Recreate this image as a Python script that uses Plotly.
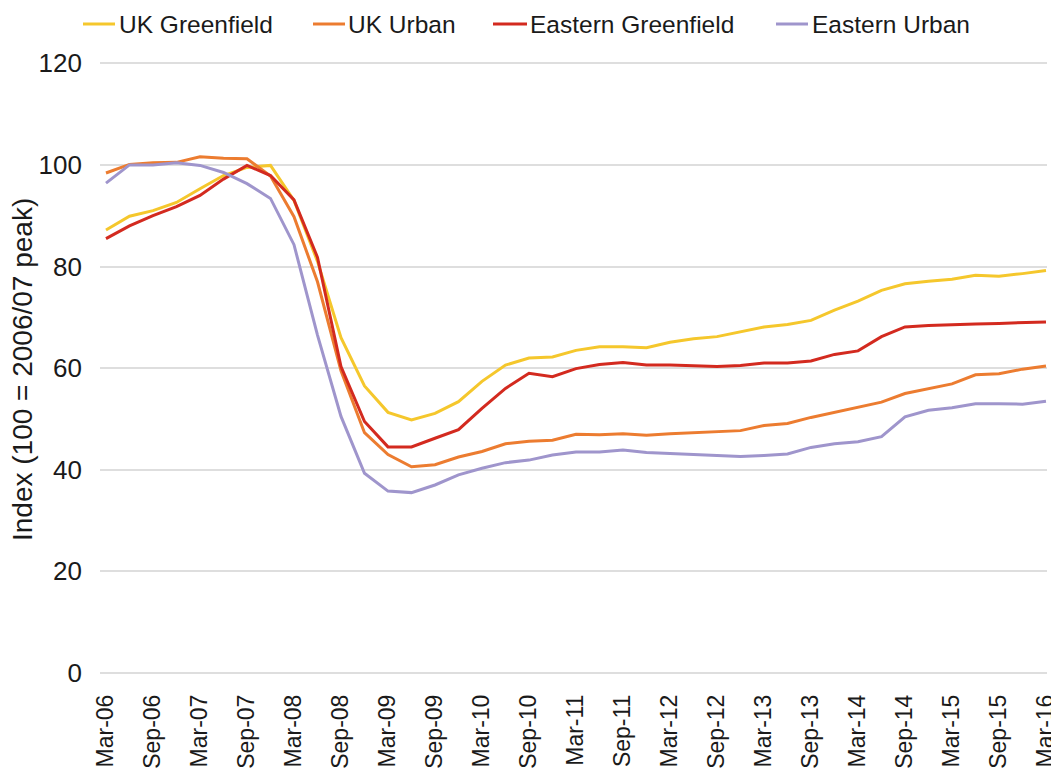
import plotly.graph_objects as go

quarters = [f"{m}-{y:02d}" for y in range(6, 17) for m in ("Mar", "Jun", "Sep", "Dec")][:41]

uk_greenfield = [87.2, 89.9, 91.0, 92.6, 95.3, 97.9, 99.5, 99.9, 93.0, 81.0,
                 66.0, 56.5, 51.3, 49.8, 51.1, 53.4, 57.4, 60.6, 62.0, 62.2,
                 63.5, 64.2, 64.2, 64.0, 65.1, 65.8, 66.2, 67.2, 68.1, 68.6,
                 69.4, 71.4, 73.2, 75.3, 76.6, 77.1, 77.5, 78.3, 78.1, 78.6, 79.2]
uk_urban = [98.4, 100.1, 100.4, 100.5, 101.6, 101.3, 101.2, 97.8, 89.8, 77.0,
            59.5, 47.3, 43.0, 40.6, 41.0, 42.5, 43.6, 45.1, 45.6, 45.8,
            47.0, 46.9, 47.1, 46.8, 47.1, 47.3, 47.5, 47.7, 48.7, 49.1,
            50.3, 51.3, 52.2, 53.3, 55.0, 56.0, 56.9, 58.7, 58.9, 59.8, 60.4]
eastern_greenfield = [85.5, 88.0, 90.0, 91.8, 94.0, 97.2, 99.9, 97.9, 93.1, 81.8,
                      60.3, 49.5, 44.5, 44.5, 46.2, 47.9, 52.1, 56.0, 59.0, 58.3,
                      59.9, 60.7, 61.1, 60.6, 60.6, 60.5, 60.3, 60.5, 61.0, 61.0,
                      61.4, 62.7, 63.4, 66.2, 68.1, 68.4, 68.6, 68.7, 68.8, 68.9, 69.1]
eastern_urban = [96.4, 100.0, 100.0, 100.4, 99.9, 98.5, 96.3, 93.4, 84.3, 66.5,
                 50.5, 39.3, 35.8, 35.5, 37.0, 39.0, 40.3, 41.4, 41.9, 42.9,
                 43.5, 43.5, 43.9, 43.4, 43.2, 43.0, 42.8, 42.6, 42.8, 43.1,
                 44.4, 45.1, 45.5, 46.5, 50.4, 51.7, 52.2, 53.0, 53.0, 52.9, 53.5]

series_names = ["UK Greenfield", "UK Urban", "Eastern Greenfield", "Eastern Urban"]
series_values = [uk_greenfield, uk_urban, eastern_greenfield, eastern_urban]
colors = ["#F5C72C", "#EC7C30", "#D32A1F", "#9F95CC"]

# legend key placement (figure pixels): swatch start, swatch end, text start
legend_key_px = [(75, 107, 110), (305, 337, 339), (485, 519, 521), (768, 800, 803)]
LEGEND_Y_PX = 16

W, H = 1059, 769
ML, MR, MT, MB = 92, 20, 54, 104
PW, PH = W - ML - MR, H - MT - MB
FONT = "Liberation Sans, Arial, sans-serif"


def px_x(p):
    return (p - ML) / PW


def px_y(p):
    return (H - MB - p) / PH


fig = go.Figure()
for name, vals, col in zip(series_names, series_values, colors):
    fig.add_trace(go.Scatter(x=quarters, y=vals, mode="lines", name=name,
                             line=dict(color=col, width=3)))

shapes = []
annotations = []
for name, col, (x0, x1, xt) in zip(series_names, colors, legend_key_px):
    shapes.append(dict(type="line", xref="paper", yref="paper",
                       x0=px_x(x0), x1=px_x(x1), y0=px_y(LEGEND_Y_PX), y1=px_y(LEGEND_Y_PX),
                       line=dict(color=col, width=3)))
    annotations.append(dict(text=name, xref="paper", yref="paper",
                            x=px_x(xt), y=px_y(LEGEND_Y_PX), xanchor="left", yanchor="middle",
                            showarrow=False, borderpad=0,
                            font=dict(family=FONT, size=24.5, color="#1a1a1a")))

annotations.append(dict(text="Index (100 = 2006/07 peak)", textangle=-90,
                        xref="paper", yref="paper", x=px_x(14), y=px_y(362),
                        xanchor="center", yanchor="middle", showarrow=False,
                        font=dict(family=FONT, size=28, color="#1a1a1a")))

fig.update_layout(
    width=W, height=H,
    paper_bgcolor="white", plot_bgcolor="white",
    margin=dict(l=ML, r=MR, t=MT, b=MB),
    font=dict(family=FONT, color="#1a1a1a"),
    showlegend=False,
    xaxis=dict(type="category", categoryorder="array", categoryarray=quarters,
               range=[-0.255, 40.043], tickvals=quarters[::2], tickangle=-90,
               tickfont=dict(family=FONT, size=23, color="#1a1a1a"),
               showgrid=False, showline=False, ticks="", ticklabelstandoff=16,
               zeroline=False, automargin=False),
    yaxis=dict(range=[0, 120.25], tickvals=list(range(0, 121, 20)),
               tickfont=dict(family=FONT, size=26, color="#1a1a1a"),
               showgrid=True, gridcolor="#DEDEDE", gridwidth=1.5,
               zeroline=True, zerolinecolor="#DEDEDE", zerolinewidth=1.5,
               showline=False, ticks="", ticklabelstandoff=17, automargin=False),
    shapes=shapes,
    annotations=annotations,
)

fig.write_html("out.html")
